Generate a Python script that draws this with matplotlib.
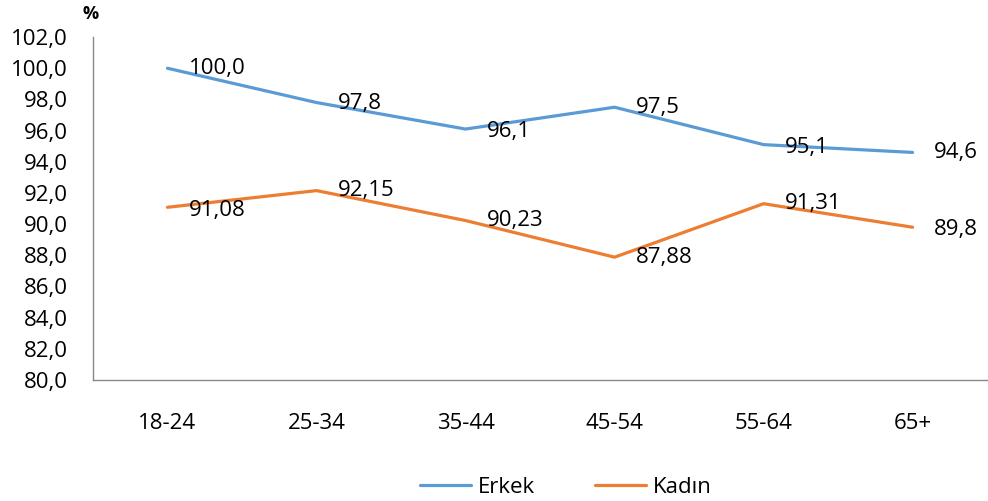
"""Erkek / Kadın line chart by age group."""

import matplotlib
matplotlib.use("Agg")
import matplotlib.pyplot as plt

categories = ["18-24", "25-34", "35-44", "45-54", "55-64", "65+"]
erkek = [100.0, 97.8, 96.1, 97.5, 95.1, 94.6]
kadin = [91.08, 92.15, 90.23, 87.88, 91.31, 89.8]
erkek_labels = ["100,0", "97,8", "96,1", "97,5", "95,1", "94,6"]
kadin_labels = ["91,08", "92,15", "90,23", "87,88", "91,31", "89,8"]
yticks = [80 + 2 * i for i in range(12)]

BLUE = "#5B9BD5"
ORANGE = "#ED7D31"
GRAY = "#898989"
FS = 16

plt.rcParams["font.family"] = ["Open Sans", "DejaVu Sans"]

fig = plt.figure(figsize=(9.88, 5.01), dpi=100)
ax = fig.add_axes([0.0941, 0.2415, 0.905, 0.6845])

x = list(range(len(categories)))
ax.plot(x, erkek, color=BLUE, linewidth=2.3, label="Erkek", solid_capstyle="round")
ax.plot(x, kadin, color=ORANGE, linewidth=2.3, label="Kadın", solid_capstyle="round")

# label offsets in pixels (dx, dy)
erkek_off = [(21, 0), (21, -1), (21, -2), (21, 0), (21, -3), (21, 0)]
kadin_off = [(21, -3), (21, 0), (21, 0), (21, 0), (21, 0), (21, -2)]
for xi, v, lab, off in zip(x, erkek, erkek_labels, erkek_off):
    ax.annotate(lab, (xi, v), xytext=off, textcoords="offset pixels",
                ha="left", va="center", fontsize=FS, color="black")
for xi, v, lab, off in zip(x, kadin, kadin_labels, kadin_off):
    ax.annotate(lab, (xi, v), xytext=off, textcoords="offset pixels",
                ha="left", va="center", fontsize=FS, color="black")

ax.set_xlim(-0.5, len(categories) - 0.5)
ax.set_ylim(80, 102)
ax.set_yticks(yticks)
ax.set_yticklabels([f"{t:.1f}".replace(".", ",") for t in yticks])
ax.set_xticks(x)
ax.set_xticklabels(categories)
ax.tick_params(axis="both", length=0, labelsize=FS)
ax.tick_params(axis="y", pad=18)
ax.tick_params(axis="x", pad=24)

for side in ["top", "right"]:
    ax.spines[side].set_visible(False)
for side in ["left", "bottom"]:
    ax.spines[side].set_color(GRAY)
    ax.spines[side].set_linewidth(1.0)

fig.text(0.092, 0.972, "%", fontsize=13, fontweight="bold", ha="center", va="center")

fig.legend(loc="center", bbox_to_anchor=(0.573, 0.027), ncol=2, frameon=False,
           fontsize=FS, handlelength=2.3, columnspacing=2.7, handletextpad=0.3)

fig.savefig("out.png", dpi=100)
